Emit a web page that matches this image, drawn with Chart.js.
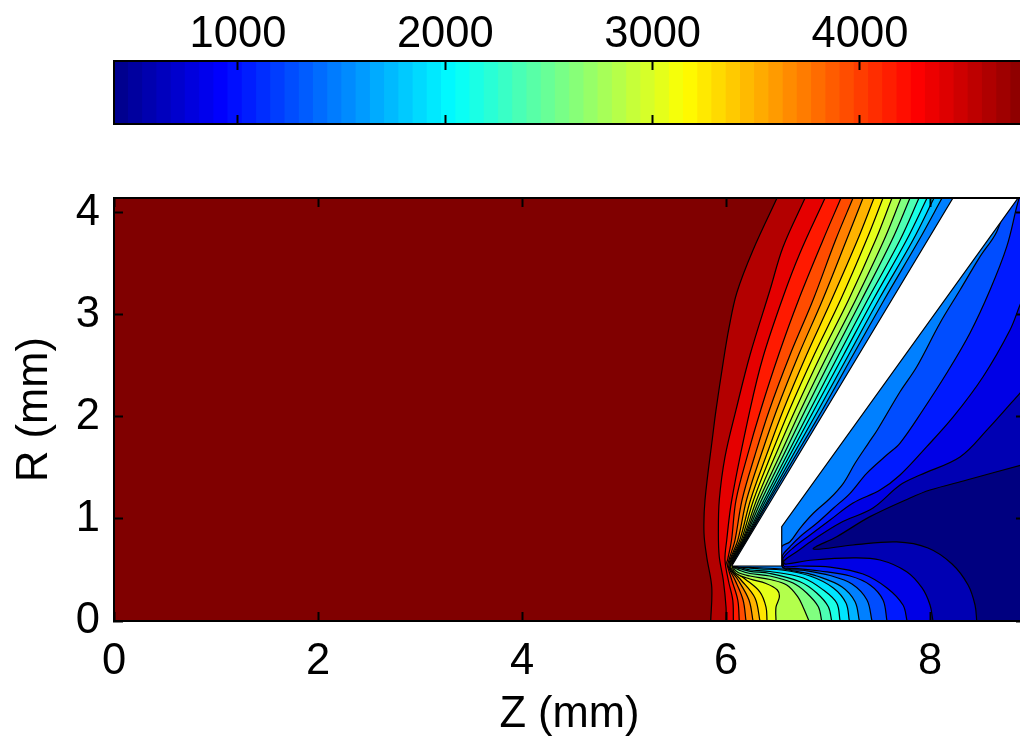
<!DOCTYPE html>
<html><head><meta charset="utf-8">
<script src="https://cdn.jsdelivr.net/npm/chart.js@4"></script>
<style>
html,body{margin:0;padding:0;background:#fff;overflow:hidden}
#wrap{position:relative;width:1020px;height:741px;overflow:hidden}
canvas{position:absolute;left:0;top:0}
</style></head><body>
<div id="wrap"><canvas id="main" width="1060" height="741"></canvas><canvas id="bar" width="1060" height="741"></canvas></div>
<script>
// axis ticks and ranges (mm)
const zTicks=[0,2,4,6,8];
const rTicks=[0,1,2,3,4];
const zMax=8.931, rMax=4.147, zFar=9.6;
const barTicks=[1000,2000,3000,4000];
const barMin=402, barMax=4796;
const barEdges=[402,471,539,608,677,745,814,883,951,1020,1089,1157,1226,1295,1363,1432,1500,1569,1638,1706,1775,1844,1912,1981,2050,2118,2187,2256,2324,2393,2462,2530,2599,2668,2736,2805,2874,2942,3011,3080,3148,3217,3285,3354,3423,3491,3560,3629,3697,3766,3835,3903,3972,4041,4109,4178,4247,4315,4384,4453,4521,4590,4659,4727];
// contour levels, hottest first: [Z,R] in mm
const L1=[[6.5,4.147],[6.265,3.637],[6.105,3.216],[6.029,2.873],[5.971,2.529],[5.902,2.069],[5.873,1.843],[5.794,1.186],[5.784,.863],[5.811,.627],[5.86,.333],[5.85,0]];
const L2=[[6.775,4.147],[6.559,3.667],[6.431,3.245],[6.235,2.608],[6.098,2.069],[5.99,1.608],[5.934,1.186],[5.925,.863],[5.934,.627],[5.973,.402],[6,.137],[6,0]];
const L3=[[6.971,4.147],[6.725,3.608],[6.559,3.176],[6.363,2.588],[6.235,2.069],[6.056,1.186],[6.007,.794],[5.99,.598],[6.022,.402],[6.066,.206],[6.072,0]];
const L4=[[7.127,4.147],[6.951,3.735],[6.711,3.147],[6.515,2.608],[6.34,2.069],[6.211,1.627],[6.098,1.186],[6.054,.794],[6.015,.598],[6.007,.569],[6.056,.402],[6.115,.206],[6.13,0]];
const L5=[[7.245,4.147],[7.074,3.735],[6.853,3.147],[6.627,2.608],[6.425,2.069],[6.284,1.627],[6.157,1.186],[6.088,.794],[6.029,.598],[6.02,.539],[6.088,.402],[6.167,.206],[6.196,0]];
const L6=[[7.343,4.147],[7.181,3.735],[6.946,3.147],[6.711,2.608],[6.497,2.069],[6.343,1.627],[6.201,1.186],[6.116,.794],[6.039,.598],[6.034,.52],[6.118,.402],[6.225,.206],[6.265,0]];
const L7=[[7.451,4.147],[7.289,3.735],[7.034,3.147],[6.789,2.608],[6.562,2.069],[6.397,1.627],[6.24,1.186],[6.135,.794],[6.047,.598],[6.044,.515],[6.147,.402],[6.284,.225],[6.333,0]];
const L8=[[7.539,4.147],[7.377,3.735],[7.122,3.147],[6.863,2.608],[6.621,2.069],[6.441,1.627],[6.27,1.186],[6.15,.794],[6.054,.598],[6.054,.51],[6.186,.412],[6.333,.284],[6.392,.137],[6.402,0]];
const L9=[[7.627,4.147],[7.466,3.735],[7.201,3.147],[6.931,2.608],[6.679,2.069],[6.485,1.627],[6.299,1.186],[6.162,.794],[6.06,.598],[6.062,.525],[6.098,.466],[6.235,.412],[6.392,.368],[6.503,.304],[6.523,.235],[6.49,.137],[6.49,0]];
const L10=[[7.716,4.147],[7.549,3.735],[7.27,3.147],[6.995,2.608],[6.732,2.069],[6.529,1.627],[6.324,1.186],[6.171,.794],[6.065,.598],[6.069,.529],[6.118,.475],[6.235,.441],[6.431,.407],[6.595,.353],[6.706,.235],[6.755,.137],[6.814,0]];
const L11=[[7.804,4.147],[7.627,3.735],[7.328,3.147],[7.049,2.608],[6.778,2.069],[6.564,1.627],[6.348,1.186],[6.178,.794],[6.069,.598],[6.075,.532],[6.137,.495],[6.235,.466],[6.431,.441],[6.657,.373],[6.791,.275],[6.905,.14],[6.938,0]];
const L12=[[7.892,4.147],[7.706,3.735],[7.387,3.147],[7.103,2.608],[6.824,2.069],[6.598,1.627],[6.373,1.186],[6.186,.794],[6.074,.598],[6.078,.534],[6.157,.507],[6.235,.487],[6.431,.466],[6.725,.385],[6.889,.275],[7.003,.14],[7.036,0]];
const L13=[[7.971,4.147],[7.77,3.735],[7.441,3.147],[7.152,2.608],[6.863,2.069],[6.627,1.627],[6.392,1.186],[6.192,.794],[6.078,.598],[6.082,.536],[6.176,.515],[6.235,.5],[6.431,.485],[6.758,.422],[6.954,.304],[7.085,.176],[7.118,0]];
const L14=[[8.039,4.147],[7.833,3.735],[7.495,3.147],[7.201,2.608],[6.905,2.069],[6.657,1.627],[6.412,1.186],[6.197,.794],[6.081,.598],[6.085,.537],[6.186,.524],[6.333,.51],[6.546,.5],[6.824,.441],[7.052,.324],[7.176,.176],[7.209,0]];
const L15=[[8.118,4.147],[7.892,3.735],[7.549,3.147],[7.245,2.608],[6.944,2.069],[6.686,1.627],[6.426,1.186],[6.202,.794],[6.085,.598],[6.088,.539],[6.235,.525],[6.549,.51],[6.725,.48],[6.889,.441],[7.134,.336],[7.265,.189],[7.307,0]];
const L16=[[8.765,4.147],[8.654,3.817],[8.49,3.572],[8.294,3.245],[8.098,2.922],[7.87,2.493],[7.706,2.248],[7.483,1.873],[7.395,1.742],[7.265,1.546],[7.15,1.35],[7.02,1.203],[6.856,1.056],[6.725,.909],[6.627,.777],[6.546,.728],[6.549,.598],[6.559,.52],[6.775,.495],[7.02,.446],[7.235,.363],[7.382,.206],[7.431,0]];
const L17=[[8.873,4.147],[8.85,4.062],[8.752,3.67],[8.588,3.245],[8.392,2.824],[8.164,2.431],[7.931,2.069],[7.706,1.745],[7.575,1.627],[7.379,1.448],[7.216,1.252],[7.052,1.105],[6.889,.958],[6.725,.826],[6.627,.728],[6.556,.647],[6.554,.578],[6.559,.525],[6.676,.515],[6.922,.49],[7.216,.441],[7.412,.353],[7.539,.206],[7.578,0]];
const L18=[[8.931,3.206],[8.882,3.098],[8.784,2.853],[8.52,2.395],[8.229,2.003],[7.968,1.709],[7.706,1.431],[7.51,1.284],[7.245,1.157],[7.02,.99],[6.824,.843],[6.657,.716],[6.559,.618],[6.564,.578],[6.569,.534],[6.725,.539],[7.02,.529],[7.343,.461],[7.578,.324],[7.735,.157],[7.775,0]];
const L19=[[8.931,2.294],[8.882,2.235],[8.559,1.873],[8.294,1.608],[7.902,1.431],[7.706,1.333],[7.441,1.108],[7.118,.961],[6.853,.794],[6.693,.679],[6.569,.591],[6.574,.559],[6.595,.559],[6.856,.598],[7.248,.618],[7.51,.598],[7.771,.483],[7.922,.324],[8,.157],[8.029,0]];
const L20=[[8.931,1.539],[8.36,1.382],[8,1.284],[7.804,1.206],[7.412,1.023],[7.085,.826],[6.856,.706],[7.245,.745],[7.673,.775],[7.98,.716],[8.216,.559],[8.373,.353],[8.441,.157],[8.458,0]];
const contours=[L1,L2,L3,L4,L5,L6,L7,L8,L9,L10,L11,L12,L13,L14,L15,L16,L17,L18,L19,L20];
// excluded solid region
const solid=[[6.056,.539],[6.546,.539],[6.546,.925],[8.863,4.147],[8.225,4.147],[6.056,.539]];

function jet(t){
  const c=v=>Math.round(255*Math.max(0,Math.min(1,1.5-Math.abs(4*t-v))));
  return `rgb(${c(3)},${c(2)},${c(1)})`;
}
const pts=a=>a.map(p=>({x:p[0],y:p[1]}));
const FONT='"Liberation Sans", Arial, sans-serif';
const FS=43.5;
const tickSet=arr=>s=>{s.ticks=arr.map(v=>({value:v}));};
const gridOpt={drawOnChartArea:false,drawTicks:true,tickLength:-9,tickWidth:2,tickColor:'#000',z:3};
const borderOpt={display:true,color:'#000',width:2,z:3};
const fit=(k,v)=>s=>{s[k]=v;};
const plain=v=>String(v);
// carries a contour straight on past the plot edge so its curve is not bent by the closing edge
const beyond=(a,b)=>({x:a[0]+(a[0]-b[0])*.4,y:a[1]+(a[1]-b[1])*.4});

const sets=[];
sets.push({data:pts([[0,0],[zFar,0],[zFar,rMax],[0,rMax]]),showLine:true,fill:'shape',backgroundColor:jet(1),borderWidth:0,pointRadius:0,order:100});
contours.forEach((c,i)=>{
  const n=c.length;
  const head=beyond(c[0],c[1]), tail=beyond(c[n-1],c[n-2]);
  const d=[head,...pts(c),tail,{x:zFar+2,y:tail.y},{x:zFar+2,y:head.y}];
  sets.push({data:d,showLine:true,fill:'shape',backgroundColor:jet((19-i)/20),borderColor:'#000',borderWidth:1.2,pointRadius:0,tension:.35,capBezierPoints:false,order:99-i});
});
sets.push({data:pts(solid),showLine:true,fill:'shape',backgroundColor:'#fff',borderColor:'#000',borderWidth:1.2,pointRadius:0,tension:0,order:1});

new Chart(document.getElementById('main'),{
  type:'scatter',
  data:{datasets:sets},
  options:{responsive:false,animation:false,layout:{padding:0},
    plugins:{legend:{display:false},tooltip:{enabled:false}},
    scales:{
      x:{type:'linear',position:'bottom',min:0,max:zMax,afterBuildTicks:tickSet(zTicks),afterFit:fit('height',120),
        grid:gridOpt,border:borderOpt,
        ticks:{z:3,autoSkip:false,maxRotation:0,padding:24,color:'#000',callback:plain,font:{family:FONT,size:FS}},
        title:{display:true,text:'Z (mm)',color:'#000',font:{family:FONT,size:FS},padding:{top:0,bottom:0}}},
      x2:{axis:'x',type:'linear',position:'top',min:0,max:zMax,afterBuildTicks:tickSet(zTicks),afterFit:fit('height',198),
        grid:gridOpt,border:borderOpt,ticks:{display:false,autoSkip:false}},
      y:{type:'linear',position:'left',min:0,max:rMax,afterBuildTicks:tickSet(rTicks),afterFit:fit('width',114),
        grid:gridOpt,border:borderOpt,
        ticks:{z:3,autoSkip:false,padding:23,color:'#000',callback:plain,font:{family:FONT,size:FS}},
        title:{display:true,text:'R (mm)',color:'#000',font:{family:FONT,size:FS},padding:{top:9,bottom:0}}},
      y2:{axis:'y',type:'linear',position:'right',min:0,max:rMax,afterBuildTicks:tickSet(rTicks),afterFit:fit('width',35),
        grid:gridOpt,border:borderOpt,ticks:{display:false,autoSkip:false}}
    }
  }
});

const barSets=barEdges.map((e,k)=>({data:[[e,barMax]],backgroundColor:jet((k+.5)/64*0.984375+0.0078),borderWidth:0,grouped:false,barPercentage:1,categoryPercentage:1,order:100-k}));
new Chart(document.getElementById('bar'),{
  type:'bar',
  data:{labels:['levels'],datasets:barSets},
  options:{indexAxis:'y',responsive:false,animation:false,layout:{padding:0},
    plugins:{legend:{display:false},tooltip:{enabled:false}},
    scales:{
      x:{type:'linear',position:'top',min:barMin,max:barMax,afterBuildTicks:tickSet(barTicks),afterFit:fit('height',61),
        grid:gridOpt,border:borderOpt,
        ticks:{z:3,autoSkip:false,maxRotation:0,padding:9,color:'#000',callback:plain,font:{family:FONT,size:FS}}},
      x2:{axis:'x',type:'linear',position:'bottom',min:barMin,max:barMax,afterBuildTicks:tickSet(barTicks),afterFit:fit('height',617),
        grid:gridOpt,border:borderOpt,ticks:{display:false,autoSkip:false}},
      y:{type:'category',position:'left',afterFit:fit('width',114),
        grid:{drawOnChartArea:false,drawTicks:false,z:3},border:borderOpt,ticks:{display:false}},
      y2:{axis:'y',type:'category',labels:['levels'],position:'right',afterFit:fit('width',35),
        grid:{drawOnChartArea:false,drawTicks:false,z:3},border:borderOpt,ticks:{display:false}}
    }
  }
});
</script>
</body></html>
